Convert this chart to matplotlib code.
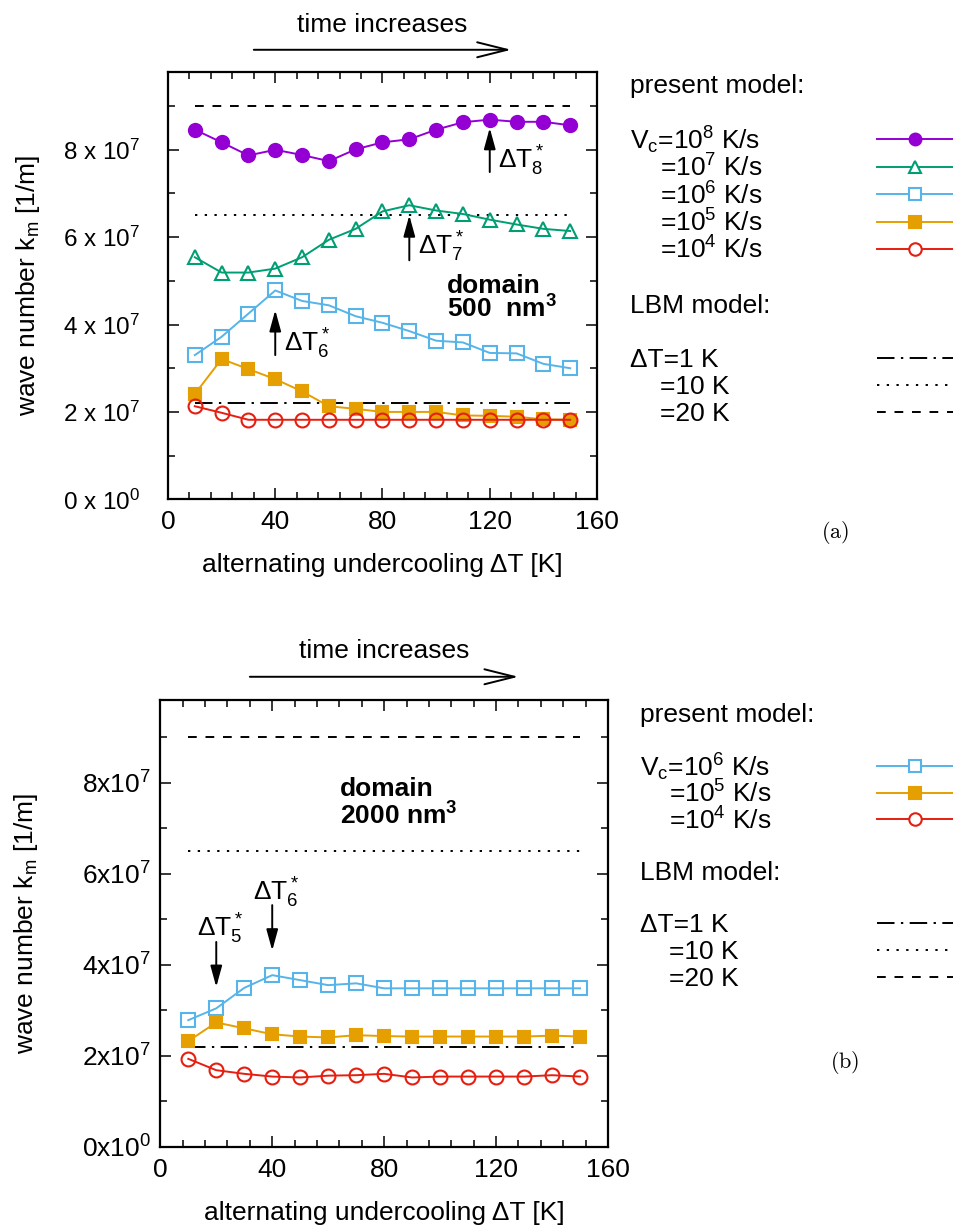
import matplotlib
matplotlib.use('Agg')
import matplotlib.pyplot as plt
from matplotlib.lines import Line2D
from matplotlib.ticker import MultipleLocator, FuncFormatter
import numpy as np

plt.rcParams['font.family'] = ['Liberation Sans', 'DejaVu Sans']
plt.rcParams['mathtext.fontset'] = 'custom'
plt.rcParams['mathtext.rm'] = 'Liberation Sans'
plt.rcParams['mathtext.it'] = 'Liberation Sans:italic'
plt.rcParams['mathtext.bf'] = 'Liberation Sans:bold'

# alternating undercooling [K]
dT = np.arange(10, 151, 10)

# panel (a): domain 500 nm^3, wave number in 1e7 1/m
km_a_1e8 = np.array([8.46, 8.17, 7.87, 8.00, 7.88, 7.74, 8.01, 8.17, 8.24, 8.46, 8.63, 8.69, 8.64, 8.64, 8.56]) * 1e7
km_a_1e7 = np.array([5.54, 5.19, 5.19, 5.28, 5.54, 5.94, 6.19, 6.59, 6.73, 6.61, 6.53, 6.40, 6.29, 6.19, 6.14]) * 1e7
km_a_1e6 = np.array([3.30, 3.72, 4.25, 4.78, 4.54, 4.44, 4.19, 4.04, 3.85, 3.63, 3.59, 3.35, 3.34, 3.10, 3.00]) * 1e7
km_a_1e5 = np.array([2.41, 3.21, 2.98, 2.75, 2.47, 2.13, 2.07, 2.00, 2.00, 2.00, 1.92, 1.91, 1.89, 1.83, 1.82]) * 1e7
km_a_1e4 = np.array([2.13, 1.98, 1.82, 1.82, 1.82, 1.82, 1.82, 1.82, 1.82, 1.82, 1.82, 1.82, 1.82, 1.82, 1.82]) * 1e7

# panel (b): domain 2000 nm^3
km_b_1e6 = np.array([2.78, 3.04, 3.49, 3.77, 3.66, 3.55, 3.59, 3.48, 3.48, 3.48, 3.48, 3.48, 3.48, 3.48, 3.48]) * 1e7
km_b_1e5 = np.array([2.32, 2.73, 2.60, 2.47, 2.42, 2.40, 2.45, 2.43, 2.42, 2.42, 2.42, 2.42, 2.42, 2.44, 2.42]) * 1e7
km_b_1e4 = np.array([1.93, 1.68, 1.60, 1.54, 1.52, 1.56, 1.57, 1.60, 1.52, 1.54, 1.54, 1.54, 1.54, 1.57, 1.54]) * 1e7

# LBM model: constant wave numbers for dT = 1, 10, 20 K
lbm_km = np.array([2.2, 6.5, 9.0]) * 1e7
lbm_labels = ['ΔT=1 K', '=10 K', '=20 K']

W, H = 954, 1226
fig = plt.figure(figsize=(W / 100, H / 100), dpi=100)

def fxy(x, y):
    # pixel position -> figure fraction
    return x / W, 1 - y / H

styles = {
    '1e8': dict(color='#9400d3', marker='o', mfc='#9400d3', ms=9.5),
    '1e7': dict(color='#009e73', marker='^', mfc='none', ms=10),
    '1e6': dict(color='#56b4e9', marker='s', mfc='none', ms=9.5),
    '1e5': dict(color='#e69f00', marker='s', mfc='#e69f00', ms=9),
    '1e4': dict(color='#e51e10', marker='o', mfc='none', ms=10),
}
lbm_styles = [(0, (9, 3.3, 1.2, 3.3)), (0, (1.2, 3.8)), (0, (4.5, 4.5))]

FS = 19


def setup_axes(ax, ymax, ytick_fmt, ypad, yfs):
    ax.set_xlim(0, 160)
    ax.set_ylim(0, ymax)
    ax.xaxis.set_major_locator(MultipleLocator(40))
    ax.xaxis.set_minor_locator(MultipleLocator(8))
    ax.yaxis.set_major_locator(MultipleLocator(2e7))
    ax.yaxis.set_minor_locator(MultipleLocator(1e7))
    ax.yaxis.set_major_formatter(FuncFormatter(ytick_fmt))
    ax.tick_params(which='both', direction='in', top=True, right=True, width=1.1)
    ax.tick_params(which='major', length=8)
    ax.tick_params(which='minor', length=5)
    ax.tick_params(axis='x', labelsize=FS, pad=8)
    ax.tick_params(axis='y', labelsize=yfs, pad=ypad)
    for s in ax.spines.values():
        s.set_linewidth(1.6)
    ax.set_xlabel('alternating undercooling ΔT [K]', fontsize=FS)
    ax.xaxis.label.set_verticalalignment('center')
    ax.set_ylabel('wave number k$_{\\mathrm{m}}$ [1/m]', fontsize=FS)
    ax.yaxis.label.set_verticalalignment('center')
    # time arrow above the panel
    ax.annotate('', xy=(128, 1.052), xytext=(32, 1.052),
                xycoords=('data', 'axes fraction'), textcoords=('data', 'axes fraction'),
                arrowprops=dict(arrowstyle='->,head_length=1.2,head_width=0.3', lw=1.4,
                                color='k', mutation_scale=18, shrinkA=0, shrinkB=0),
                annotation_clip=False)
    ax.text(80, 1.11, 'time increases', transform=ax.get_xaxis_transform(),
            ha='center', va='center', fontsize=FS)


def plot_series(ax, y, key):
    st = styles[key]
    ax.plot(dT, y, color=st['color'], lw=1.4, marker=st['marker'], mfc=st['mfc'],
            mec=st['color'], mew=1.5, ms=st['ms'], clip_on=False, zorder=3)


def lbm_lines(ax):
    for km, ls in zip(lbm_km, lbm_styles):
        ax.plot([dT[0], dT[-1]], [km, km], color='k', lw=1.4, ls=ls, zorder=2)


def marker_arrow(ax, x, y0, y1):
    ax.annotate('', xy=(x, y1), xytext=(x, y0),
                arrowprops=dict(arrowstyle='-|>,head_length=0.8,head_width=0.22', lw=1.4,
                                color='k', mutation_scale=16, shrinkA=0, shrinkB=0))


def legend_block(header_y, rows, lbm_header_y, lbm_rows, x_text, x_indent):
    fig.text(*fxy(x_text, header_y), 'present model:', fontsize=FS, va='baseline')
    for i, (label, key, ly) in enumerate(rows):
        fig.text(*fxy(x_text if i == 0 else x_indent, ly + 10), label, fontsize=FS, va='baseline')
        st = styles[key]
        x0, y0 = fxy(877, ly)
        x1, _ = fxy(960, ly)
        fig.add_artist(Line2D([x0, x1], [y0, y0], color=st['color'], lw=1.4,
                              transform=fig.transFigure))
        mx, _ = fxy(915, ly)
        fig.add_artist(Line2D([mx], [y0], color=st['color'], marker=st['marker'],
                              mfc=st['mfc'] if st['mfc'] != 'none' else 'white',
                              mec=st['color'], mew=1.5, ms=st['ms'] - 1,
                              transform=fig.transFigure))
    fig.text(*fxy(x_text, lbm_header_y), 'LBM model:', fontsize=FS, va='baseline')
    for i, (label, ls, ly) in enumerate(lbm_rows):
        fig.text(*fxy(x_text if i == 0 else x_indent, ly + 9), label, fontsize=FS, va='baseline')
        x0, y0 = fxy(877, ly)
        x1, _ = fxy(960, ly)
        fig.add_artist(Line2D([x0, x1], [y0, y0], color='k', lw=1.4, ls=ls,
                              transform=fig.transFigure))


# ---------------- panel (a) ----------------
ax1 = fig.add_axes([168 / W, 1 - 499.3 / H, 429 / W, 427.3 / H])
setup_axes(ax1, 9.78e7, lambda v, p: f'{int(round(v / 1e7))} x 10$^{{{7 if v else 0}}}$', 20, 17.5)
ax1.xaxis.set_label_coords(0.5, -0.154)
ax1.yaxis.set_label_coords(-0.327, 0.5)
lbm_lines(ax1)
for y, key in [(km_a_1e8, '1e8'), (km_a_1e7, '1e7'), (km_a_1e6, '1e6'),
               (km_a_1e5, '1e5'), (km_a_1e4, '1e4')]:
    plot_series(ax1, y, key)
marker_arrow(ax1, 120, 7.49e7, 8.5e7)
marker_arrow(ax1, 90, 5.47e7, 6.5e7)
marker_arrow(ax1, 40, 3.3e7, 4.33e7)
ax1.text(123, 7.57e7, 'ΔT$_8^*$', fontsize=FS, va='baseline')
ax1.text(93.3, 5.59e7, 'ΔT$_7^*$', fontsize=FS, va='baseline')
ax1.text(43.3, 3.38e7, 'ΔT$_6^*$', fontsize=FS, va='baseline')
ax1.text(104, 4.73e7, 'domain', fontsize=FS, fontweight='bold', va='baseline')
ax1.text(104, 4.15e7, '500  nm$^{\\mathbf{3}}$', fontsize=FS, fontweight='bold', va='baseline')

legend_block(93.3,
             [('V$_\\mathrm{c}$=10$^8$ K/s', '1e8', 139.3), ('=10$^7$ K/s', '1e7', 166.7),
              ('=10$^6$ K/s', '1e6', 194.3), ('=10$^5$ K/s', '1e5', 221.7),
              ('=10$^4$ K/s', '1e4', 249)],
             313.3,
             list(zip(lbm_labels, lbm_styles, [357.7, 385, 411.7])),
             630, 660)
fig.text(*fxy(835, 533), '$\\mathrm{(a)}$', math_fontfamily='cm', fontsize=16,
         ha='center', va='center')

# ---------------- panel (b) ----------------
ax2 = fig.add_axes([160.3 / W, 1 - 1146.6 / H, 447.7 / W, 446.6 / H])
setup_axes(ax2, 9.82e7, lambda v, p: f'{int(round(v / 1e7))}x10$^{{{7 if v else 0}}}$', 7, 19)
ax2.xaxis.set_label_coords(0.5, -0.149)
ax2.yaxis.set_label_coords(-0.30, 0.5)
lbm_lines(ax2)
for y, key in [(km_b_1e6, '1e6'), (km_b_1e5, '1e5'), (km_b_1e4, '1e4')]:
    plot_series(ax2, y, key)
marker_arrow(ax2, 20, 4.5e7, 3.51e7)
marker_arrow(ax2, 40, 5.31e7, 4.31e7)
ax2.text(13.0, 4.61e7, 'ΔT$_5^*$', fontsize=FS, va='baseline')
ax2.text(33.2, 5.42e7, 'ΔT$_6^*$', fontsize=FS, va='baseline')
ax2.text(64.2, 7.70e7, 'domain', fontsize=FS, fontweight='bold', va='baseline')
ax2.text(64.2, 7.09e7, '2000 nm$^{\\mathbf{3}}$', fontsize=FS, fontweight='bold', va='baseline')

legend_block(721.7,
             [('V$_\\mathrm{c}$=10$^6$ K/s', '1e6', 766), ('=10$^5$ K/s', '1e5', 792.7),
              ('=10$^4$ K/s', '1e4', 819.3)],
             880,
             list(zip(lbm_labels, lbm_styles, [923.3, 950, 976.7])),
             640, 669)
fig.text(*fxy(845, 1062), '$\\mathrm{(b)}$', math_fontfamily='cm', fontsize=16,
         ha='center', va='center')

fig.savefig('out.png', dpi=100)
